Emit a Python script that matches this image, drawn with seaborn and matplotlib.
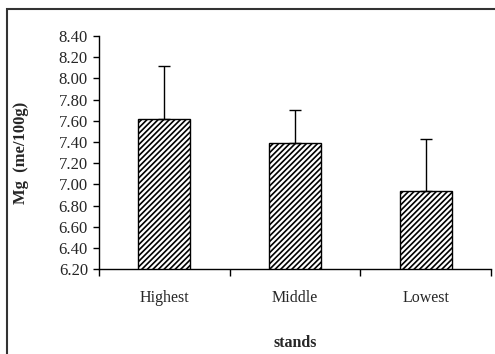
import matplotlib
matplotlib.use("Agg")
import matplotlib.pyplot as plt
import seaborn as sns
import pandas as pd
from matplotlib.patches import Rectangle
from matplotlib.ticker import FixedLocator

# Magnesium content by stand position
stands = ["Highest", "Middle", "Lowest"]
mg_mean = [7.62, 7.39, 6.94]
mg_err = [0.50, 0.31, 0.49]
y_ticks = [6.20, 6.40, 6.60, 6.80, 7.00, 7.20, 7.40, 7.60, 7.80, 8.00, 8.20, 8.40]

df = pd.DataFrame({"stands": stands, "mg": mg_mean})

sns.set_style("white")
plt.rcParams["font.family"] = ["Liberation Serif", "DejaVu Serif"]
plt.rcParams["hatch.linewidth"] = 1.2

fig = plt.figure(figsize=(4.95, 3.54), dpi=100)
ax = fig.add_axes([0.2, 0.24, 0.792, 0.658])

sns.barplot(data=df, x="stands", y="mg", ax=ax, width=0.4,
            color="white", edgecolor="black", linewidth=1.0,
            errorbar=None, zorder=2)
for bar in ax.patches:
    bar.set_hatch("//////")
    bar.set_facecolor("white")
    bar.set_edgecolor("black")

# one-sided (upper) error bars
ax.errorbar(range(len(stands)), mg_mean,
            yerr=[[0] * len(stands), mg_err],
            fmt="none", ecolor="black", elinewidth=1.0,
            capsize=4, capthick=1.0, zorder=3)

ax.set_xlim(-0.5, len(stands) - 0.5)
ax.set_ylim(y_ticks[0], y_ticks[-1])
ax.set_yticks(y_ticks)
ax.set_yticklabels([f"{v:.2f}" for v in y_ticks])

ax.xaxis.set_minor_locator(FixedLocator([i - 0.5 for i in range(len(stands) + 1)]))
ax.tick_params(axis="x", which="major", length=0, pad=15, labelsize=11.5)
ax.tick_params(axis="x", which="minor", length=5, width=1.0, color="black",
               direction="out", bottom=True)
ax.tick_params(axis="y", which="major", length=4, width=1.0, color="black",
               direction="out", left=True, labelsize=12, pad=4)

for side in ["top", "right"]:
    ax.spines[side].set_visible(False)
for side in ["left", "bottom"]:
    ax.spines[side].set_color("black")
    ax.spines[side].set_linewidth(1.0)

ax.set_xlabel("stands", fontsize=11.5, fontweight="bold", va="center")
ax.xaxis.set_label_coords(0.5, -0.318)
ax.set_ylabel("Mg  (me/100g)", fontsize=12, fontweight="bold", va="center")
ax.yaxis.set_label_coords(-0.199, 0.5)

# outer chart frame
fig.patches.append(Rectangle((7 / 495, -0.1), 1.2, 1.1 - 8.5 / 354,
                             transform=fig.transFigure, fill=False,
                             edgecolor="#333333", linewidth=1.5))

fig.savefig("out.png", dpi=100)
